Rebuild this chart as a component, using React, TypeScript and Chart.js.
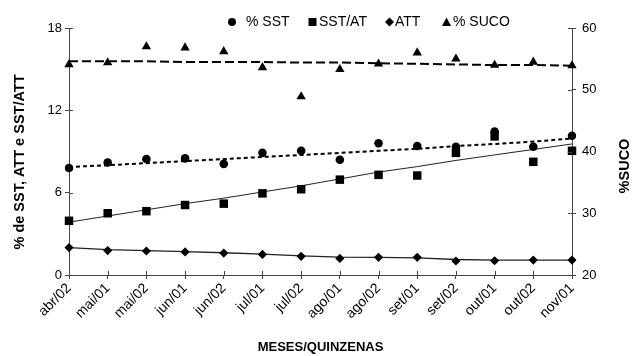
import React, { useEffect, useRef } from 'react';
import { Chart, registerables } from 'chart.js';

Chart.register(...registerables);

const categories = ['abr/02', 'mai/01', 'mai/02', 'jun/01', 'jun/02', 'jul/01', 'jul/02', 'ago/01', 'ago/02', 'set/01', 'set/02', 'out/01', 'out/02', 'nov/01'];

const sstValues = [7.8, 8.2, 8.45, 8.5, 8.1, 8.9, 9.05, 8.4, 9.6, 9.4, 9.35, 10.45, 9.35, 10.15];
const sstAtValues = [3.95, 4.5, 4.65, 5.1, 5.2, 5.95, 6.25, 6.95, 7.3, 7.25, 8.9, 10.1, 8.25, 9.05];
const attValues = [2.0, 1.78, 1.75, 1.68, 1.6, 1.5, 1.36, 1.21, 1.29, 1.29, 1.02, 1.04, 1.09, 1.09];
const sucoValues = [54.1, 54.4, 57.0, 56.8, 56.2, 53.6, 48.9, 53.3, 54.2, 56.0, 55.0, 54.0, 54.5, 53.9];

const sstTrend = [7.87, 8.0, 8.15, 8.3, 8.45, 8.6, 8.75, 8.9, 9.05, 9.2, 9.4, 9.55, 9.72, 9.95];
const sstAtTrend = [3.85, 4.3, 4.75, 5.2, 5.6, 6.05, 6.5, 7.0, 7.5, 7.9, 8.35, 8.75, 9.15, 9.55];
const attTrend = [2.0, 1.85, 1.77, 1.7, 1.62, 1.52, 1.4, 1.3, 1.28, 1.25, 1.13, 1.08, 1.08, 1.08];
const sucoTrend = [54.6, 54.6, 54.6, 54.5, 54.5, 54.5, 54.4, 54.4, 54.3, 54.2, 54.1, 54.0, 54.0, 53.9];

const leftTicks = [0, 6, 12, 18];
const rightTicks = [20, 30, 40, 50, 60];

const legendLabels = ['% SST', 'SST/AT', 'ATT', '% SUCO'];
const legendStyles = ['circle', 'rect', 'diamond', 'triangle'];

const FONT = '"Liberation Sans", Arial, Helvetica, sans-serif';
const AXIS = '#444444';

function drawMarker(ctx: CanvasRenderingContext2D, style: string, x: number, y: number) {
  ctx.beginPath();
  if (style === 'circle') {
    ctx.arc(x, y, 4, 0, Math.PI * 2);
  } else if (style === 'rect') {
    ctx.rect(x - 4, y - 4, 8, 8);
  } else if (style === 'diamond') {
    ctx.moveTo(x, y - 4.5);
    ctx.lineTo(x + 4.5, y);
    ctx.lineTo(x, y + 4.5);
    ctx.lineTo(x - 4.5, y);
    ctx.closePath();
  } else {
    ctx.moveTo(x, y - 4.5);
    ctx.lineTo(x + 4.5, y + 4);
    ctx.lineTo(x - 4.5, y + 4);
    ctx.closePath();
  }
  ctx.fill();
}

const decorPlugin = {
  id: 'decor',
  afterDraw(chart: any) {
    const ctx: CanvasRenderingContext2D = chart.ctx;
    const { left, right, bottom } = chart.chartArea;
    const xs = chart.scales.x;
    const ys = chart.scales.y;
    const y2 = chart.scales.y2;
    ctx.save();
    ctx.strokeStyle = AXIS;
    ctx.lineWidth = 1;
    ctx.beginPath();
    xs.ticks.forEach((_: any, i: number) => {
      const px = Math.round(xs.getPixelForTick(i)) + 0.5;
      ctx.moveTo(px, bottom);
      ctx.lineTo(px, bottom - 4);
    });
    ys.ticks.forEach((_: any, i: number) => {
      const py = Math.round(ys.getPixelForTick(i)) + 0.5;
      ctx.moveTo(left, py);
      ctx.lineTo(left + 4, py);
    });
    y2.ticks.forEach((_: any, i: number) => {
      const py = Math.round(y2.getPixelForTick(i)) + 0.5;
      ctx.moveTo(right, py);
      ctx.lineTo(right - 4, py);
    });
    ctx.stroke();

    // legend
    const markerX = [232, 312.5, 389.5, 446.5];
    const textX = [246, 319, 395, 453];
    const ly = 22;
    ctx.fillStyle = '#000';
    ctx.font = `14px ${FONT}`;
    ctx.textBaseline = 'middle';
    ctx.textAlign = 'left';
    legendLabels.forEach((lab, i) => {
      drawMarker(ctx, legendStyles[i], markerX[i], ly);
      ctx.fillText(lab, textX[i], ly + 0.5);
    });

    // y titles
    ctx.font = `bold 14.5px ${FONT}`;
    ctx.textAlign = 'center';
    ctx.save();
    ctx.translate(20, 162);
    ctx.rotate(-Math.PI / 2);
    ctx.fillText('% de SST, ATT e SST/ATT', 0, 0);
    ctx.restore();
    ctx.save();
    ctx.translate(625, 166);
    ctx.rotate(-Math.PI / 2);
    ctx.fillText('%SUCO', 0, 0);
    ctx.restore();
    ctx.restore();
  },
};

export default function App() {
  const ref = useRef<HTMLCanvasElement>(null);

  useEffect(() => {
    const canvas = ref.current;
    if (!canvas) return;

    const marker = (label: string, data: number[], style: string, radius: number, axis: string) => ({
      label,
      data,
      yAxisID: axis,
      showLine: false,
      pointStyle: style,
      pointRadius: radius,
      pointHoverRadius: radius,
      pointBackgroundColor: '#000',
      pointBorderColor: '#000',
      pointBorderWidth: 0,
      backgroundColor: '#000',
      borderColor: '#000',
      order: 0,
    });
    const trend = (data: number[], axis: string, dash: number[], width: number, color: string) => ({
      label: '',
      data,
      yAxisID: axis,
      pointRadius: 0,
      pointHoverRadius: 0,
      borderColor: color,
      borderWidth: width,
      borderDash: dash,
      fill: false,
      tension: 0,
      order: 1,
    });

    const chart = new Chart(canvas, {
      type: 'line',
      data: {
        labels: categories,
        datasets: [
          trend(sucoTrend, 'y2', [9, 4], 2, '#000'),
          trend(sstTrend, 'y', [4, 3], 2, '#000'),
          trend(sstAtTrend, 'y', [], 1, '#222'),
          trend(attTrend, 'y', [], 1.3, '#222'),
          marker(legendLabels[0], sstValues, 'circle', 4.3, 'y'),
          marker(legendLabels[1], sstAtValues, 'rect', 6, 'y'),
          marker(legendLabels[2], attValues, 'rectRot', 4.6, 'y'),
          marker(legendLabels[3], sucoValues, 'triangle', 5.4, 'y2'),
        ] as any,
      },
      options: {
        responsive: false,
        animation: false,
        events: [],
        layout: { padding: { top: 28, left: 0, right: 0, bottom: 0 } },
        plugins: {
          legend: { display: false },
          tooltip: { enabled: false },
          title: { display: false },
        },
        scales: {
          x: {
            type: 'category',
            offset: false,
            afterFit: (s: any) => { s.height = 81; },
            grid: { display: true, drawOnChartArea: false, drawTicks: true, tickLength: 4, color: AXIS },
            border: { display: true, color: AXIS, width: 1 },
            ticks: {
              autoSkip: false,
              maxRotation: 45,
              minRotation: 45,
              padding: 1,
              color: '#000',
              font: { family: FONT, size: 14 },
            },
            title: {
              display: true,
              text: 'MESES/QUINZENAS',
              color: '#000',
              font: { family: FONT, size: 13, weight: 'bold' },
              padding: { top: 2, bottom: 1 },
            },
          },
          y: {
            type: 'linear',
            position: 'left',
            min: 0,
            max: 18,
            afterFit: (s: any) => { s.width = 69; },
            afterBuildTicks: (s: any) => { s.ticks = leftTicks.map((v) => ({ value: v })); },
            grid: { display: true, drawOnChartArea: false, drawTicks: true, tickLength: 4, color: AXIS },
            border: { display: true, color: AXIS, width: 1 },
            ticks: { padding: 3, color: '#000', font: { family: FONT, size: 13 } },
          },
          y2: {
            type: 'linear',
            position: 'right',
            min: 20,
            max: 60,
            afterFit: (s: any) => { s.width = 61; },
            afterBuildTicks: (s: any) => { s.ticks = rightTicks.map((v) => ({ value: v })); },
            grid: { display: true, drawOnChartArea: false, drawTicks: true, tickLength: 4, color: AXIS },
            border: { display: true, color: AXIS, width: 1 },
            ticks: { padding: 6, color: '#000', font: { family: FONT, size: 13 } },
          },
        },
      } as any,
      plugins: [decorPlugin],
    });

    return () => chart.destroy();
  }, []);

  return (
    <div style={{ position: 'absolute', left: 0, top: 0, width: 633, height: 356, background: '#fff' }}>
      <canvas ref={ref} width={633} height={356} style={{ width: 633, height: 356, display: 'block' }} />
    </div>
  );
}
